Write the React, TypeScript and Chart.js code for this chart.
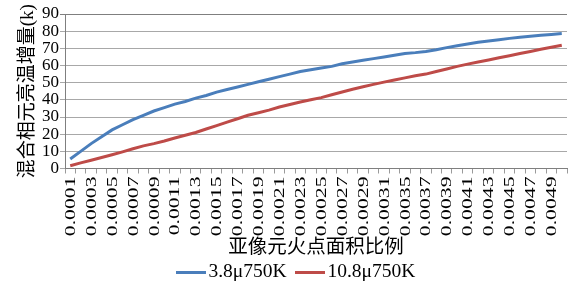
import React, { useEffect, useRef } from "react";
import { Chart, registerables } from "chart.js";

Chart.register(...registerables);

const categories: string[] = [
  "0.0001", "0.0002", "0.0003", "0.0004", "0.0005", "0.0006", "0.0007", "0.0008",
  "0.0009", "0.0010", "0.0011", "0.0012", "0.0013", "0.0014", "0.0015", "0.0016",
  "0.0017", "0.0018", "0.0019", "0.0020", "0.0021", "0.0022", "0.0023", "0.0024",
  "0.0025", "0.0026", "0.0027", "0.0028", "0.0029", "0.0030", "0.0031", "0.0033",
  "0.0035", "0.0036", "0.0037", "0.0038", "0.0039", "0.0040", "0.0041", "0.0042",
  "0.0043", "0.0044", "0.0045", "0.0046", "0.0047", "0.0048", "0.0049", "0.0050",
];

const series1Name = "3.8μ750K";
const series1: number[] = [
  5.5, 10, 14.5, 18.5, 22.5, 25.5, 28.5, 31, 33.5, 35.5,
  37.5, 39, 41, 42.5, 44.5, 46, 47.5, 49, 50.5, 52,
  53.5, 55, 56.5, 57.5, 58.5, 59.5, 61, 62, 63, 64,
  65, 66, 67, 67.5, 68.2, 69.2, 70.4, 71.5, 72.5, 73.5,
  74.3, 75, 75.8, 76.5, 77, 77.6, 78.1, 78.6,
];

const series2Name = "10.8μ750K";
const series2: number[] = [
  1.6, 3.3, 4.8, 6.4, 8, 9.7, 11.5, 13.2, 14.5, 16,
  17.8, 19.4, 21, 23, 25, 27, 29, 31, 32.5, 34,
  35.8, 37.3, 38.7, 40, 41.3, 43, 44.6, 46.2, 47.6, 49,
  50.3, 51.6, 52.8, 54, 55, 56.5, 58, 59.5, 60.8, 62,
  63.2, 64.5, 65.7, 67, 68.2, 69.5, 70.6, 71.8,
];

const yTitle = "混合相元亮温增量(k)";
const xTitle = "亚像元火点面积比例";
const yMin = 0;
const yMax = 90;
const yStep = 10;

const BLUE = "#4a7ebb";
const RED = "#be4b48";
const SERIF = "'Liberation Serif', 'Times New Roman', 'DejaVu Serif', serif";
const SERIF_CJK = "'Liberation Serif', 'Times New Roman', 'Noto Sans CJK SC', serif";

function legendLine(color: string): HTMLCanvasElement {
  const cv = document.createElement("canvas");
  cv.width = 30;
  cv.height = 3;
  const g = cv.getContext("2d")!;
  g.fillStyle = color;
  g.fillRect(0, 0, 30, 3);
  return cv;
}

export default function App() {
  const ref = useRef<HTMLCanvasElement>(null);

  useEffect(() => {
    if (!ref.current) return;
    let chart: Chart | null = null;
    let cancelled = false;

    const xLabelsPlugin = {
      id: "xLabels",
      afterDraw(c: any) {
        const xs = c.scales.x;
        const ctx = c.ctx;
        ctx.save();
        ctx.fillStyle = "#000";
        ctx.font = "14px " + SERIF;
        ctx.textAlign = "right";
        ctx.textBaseline = "middle";
        categories.forEach((lab, i) => {
          if (i % 2 !== 0) return;
          const x = xs.getPixelForTick(i);
          ctx.save();
          ctx.translate(x + 1, xs.top + 8);
          ctx.rotate(-Math.PI / 2);
          ctx.scale(1.55, 1);
          ctx.fillText(lab, 0, 0);
          ctx.restore();
        });
        ctx.restore();
      },
    };

    const build = () => {
      if (cancelled || !ref.current) return;
      chart = new Chart(ref.current, {
        type: "line",
        data: {
          labels: categories,
          datasets: [
            {
              label: series1Name,
              data: series1,
              borderColor: BLUE,
              backgroundColor: BLUE,
              borderWidth: 3,
              pointRadius: 0,
              pointStyle: legendLine(BLUE) as any,
              tension: 0,
              fill: false,
            },
            {
              label: series2Name,
              data: series2,
              borderColor: RED,
              backgroundColor: RED,
              borderWidth: 3,
              pointRadius: 0,
              pointStyle: legendLine(RED) as any,
              tension: 0,
              fill: false,
            },
          ],
        },
        options: {
          responsive: false,
          animation: false,
          devicePixelRatio: 1,
          layout: { padding: { left: 31, right: 7, top: 14, bottom: -7 } },
          plugins: {
            tooltip: { enabled: false },
            legend: {
              position: "bottom",
              labels: {
                usePointStyle: true,
                pointStyleWidth: 16,
                padding: 15,
                color: "#000",
                font: { family: SERIF, size: 19.5 },
              },
            },
          },
          scales: {
            x: {
              offset: true,
              grid: {
                offset: true,
                drawOnChartArea: false,
                drawTicks: true,
                tickLength: 5,
                color: "#9a9a9a",
              },
              border: { color: "#7f7f7f", width: 1 },
              ticks: { display: false, autoSkip: false },
              title: {
                display: true,
                text: xTitle,
                color: "#000",
                font: { family: SERIF_CJK, size: 19.5 },
                padding: { top: 0, bottom: -12 },
              },
              afterFit(scale: any) {
                scale.height = 79;
              },
            },
            y: {
              min: yMin,
              max: yMax,
              grid: {
                color: (c: any) => (c.tick && c.tick.value === yMax ? "#7f7f7f" : "#a8a8a8"),
                drawTicks: true,
                tickLength: 5,
              },
              border: { color: "#7f7f7f", width: 1 },
              ticks: {
                stepSize: yStep,
                autoSkip: false,
                color: "#000",
                padding: 1,
                font: { family: SERIF, size: 17 },
              },
              title: {
                display: true,
                text: yTitle,
                color: "#000",
                font: { family: SERIF_CJK, size: 19 },
                padding: { top: -14, bottom: 0 },
              },
              afterFit(scale: any) {
                scale.width = 34;
              },
            },
          },
        },
        plugins: [xLabelsPlugin],
      });
    };

    const fontsApi = (document as any).fonts;
    if (fontsApi && fontsApi.load) {
      Promise.all([
        fontsApi.load("17px 'Liberation Serif'"),
        fontsApi.load("19px 'Noto Sans CJK SC'", "混合"),
      ])
        .catch(() => undefined)
        .then(build);
    } else {
      build();
    }

    return () => {
      cancelled = true;
      if (chart) chart.destroy();
    };
  }, []);

  return (
    <canvas
      ref={ref}
      width={574}
      height={285}
      style={{ position: "absolute", left: 0, top: 0, width: 574, height: 285 }}
    />
  );
}
